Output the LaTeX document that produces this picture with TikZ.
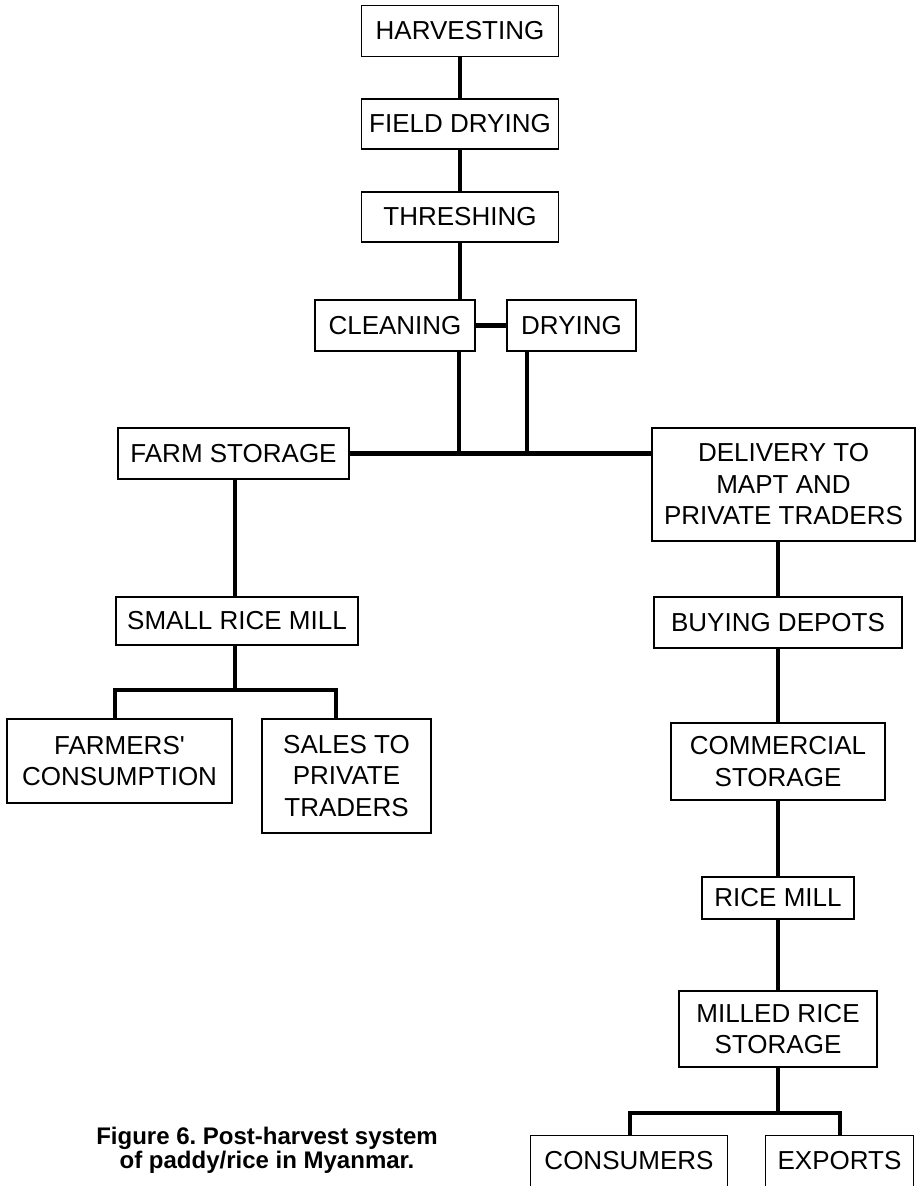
\documentclass[tikz,border=0pt]{standalone}
\usepackage{fontspec}
\setmainfont{Liberation Sans}
\frenchspacing

\begin{document}
\begin{tikzpicture}[x=1pt, y=-1pt,
        stage/.style={draw, line width=1.2pt, rectangle, align=center, inner sep=0pt,
                font=\fontsize{26}{31.5}\selectfont},
        openstage/.style={rectangle, align=center, inner sep=0pt,
                font=\fontsize{26}{31.5}\selectfont},
        link/.style={line width=4.5pt}]
        \useasboundingbox (0,0) rectangle (917,1186);

        \node[stage, minimum width=197, minimum height=51] at (460, 31)(harv){HARVESTING};
        \node[stage, minimum width=197, minimum height=50] at (460, 124)(fdry){FIELD DRYING};
        \node[stage, minimum width=197, minimum height=50] at (460, 217)(thresh){THRESHING};
        \node[stage, minimum width=160, minimum height=51] at (395, 325.5)(clean){CLEANING};
        \node[stage, minimum width=129, minimum height=51] at (571.5, 325.5)(dry){DRYING};
        \node[stage, minimum width=231, minimum height=51] at (233.5, 453.5)(farm){FARM STORAGE};
        \node[stage, minimum width=263, minimum height=113] at (783.5, 484.5)(deliv){DELIVERY TO\\MAPT AND\\PRIVATE TRADERS};
        \node[stage, minimum width=242, minimum height=48] at (237, 621)(small){SMALL RICE MILL};
        \node[stage, minimum width=225, minimum height=84] at (119.5, 761)(farmers){FARMERS\textquotesingle\\CONSUMPTION};
        \node[stage, minimum width=169, minimum height=114] at (346.5, 776)(sales){SALES TO\\PRIVATE\\TRADERS};
        \node[stage, minimum width=248, minimum height=51] at (778, 622.5)(buy){BUYING DEPOTS};
        \node[stage, minimum width=214, minimum height=77] at (778, 761.5)(comm){COMMERCIAL\\STORAGE};
        \node[stage, minimum width=152, minimum height=42] at (778, 898)(rmill){RICE MILL};
        \node[stage, minimum width=198, minimum height=76] at (778, 1029)(milled){MILLED RICE\\STORAGE};
        \node[openstage, minimum width=196, minimum height=50] at (629, 1161)(cons){CONSUMERS};
        \node[openstage, minimum width=147, minimum height=50] at (839.5, 1161)(exp){EXPORTS};
        \draw[line width=1.2pt] (cons.south west) |- (cons.north east) -- (cons.south east);
        \draw[line width=1.2pt] (exp.south west) |- (exp.north east) -- (exp.south east);

        \node[font=\bfseries\fontsize{24}{24}\selectfont, align=center] at (267, 1150)(cap)
                {Figure 6. Post-harvest system\\of paddy/rice in Myanmar.};

        \coordinate (j1) at (459, 454);
        \coordinate (j2) at (527, 454);
        \coordinate (fl) at (115, 690);
        \coordinate (fm) at (235, 690);
        \coordinate (fr) at (336, 690);
        \coordinate (cl) at (630, 1113);
        \coordinate (cr) at (840, 1113);

        \path[link]
        (harv)edge(fdry)
        (fdry)edge(thresh)
        (thresh)edge(thresh |- clean.north)
        (clean.south -| j1)edge(j1)
        (dry.south -| j2)edge(j2)
        (clean)edge(dry)
        (farm.east)edge(deliv.west |- farm.east)
        (farm.south -| fm)edge(small.north -| fm)
        (small.south -| fm)edge(fm)
        (deliv.south -| buy)edge(buy)
        (buy)edge(comm)
        (comm)edge(rmill)
        (rmill)edge(milled)
        (milled.south)edge(milled.south |- cl)
        ;

        \draw[link] (farmers.north -| fl) -- (fl) -- (fr) -- (sales.north -| fr);
        \draw[link] (cons.north -| cl) -- (cl) -- (cr) -- (exp.north -| cr);
    \end{tikzpicture}
\end{document}
